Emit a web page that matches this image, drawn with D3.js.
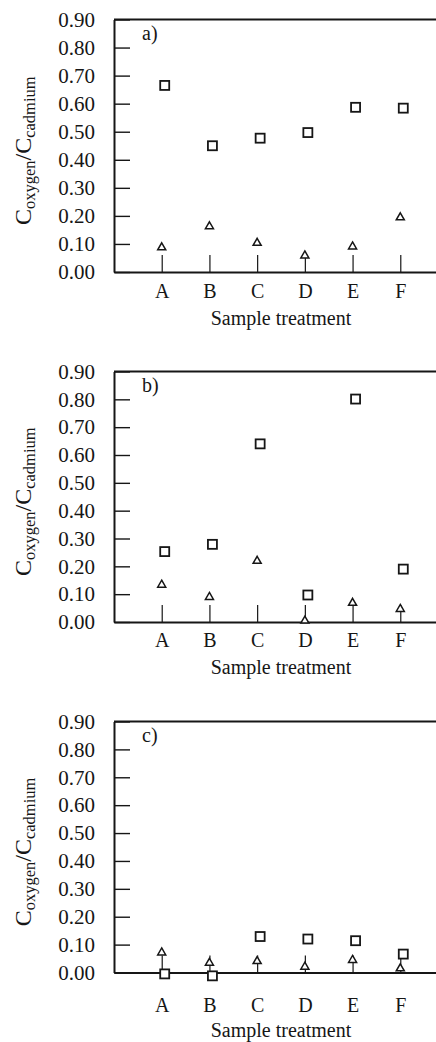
<!DOCTYPE html>
<html>
<head>
<meta charset="utf-8">
<script src="https://cdn.jsdelivr.net/npm/d3@7"></script>
<style>
    body { margin: 0; background: #fff; }
    svg { display: block; }
    .axis path, .axis line { stroke: #161616; }
</style>
</head>
<body>
<div id="chart"></div>
<script>
const categories = ['A', 'B', 'C', 'D', 'E', 'F'];
const panelNames = ['a)', 'b)', 'c)'];
const yTicks = [0, 0.1, 0.2, 0.3, 0.4, 0.5, 0.6, 0.7, 0.8, 0.9];

// squares and triangles, one value per treatment A..F
const squaresA = [0.665, 0.45, 0.477, 0.497, 0.587, 0.584];
const trianglesA = [0.091, 0.166, 0.107, 0.062, 0.094, 0.198];
const squaresB = [0.253, 0.279, 0.64, 0.097, 0.801, 0.19];
const trianglesB = [0.137, 0.093, 0.223, 0.008, 0.072, 0.05];
const squaresC = [-0.005, -0.012, 0.129, 0.12, 0.114, 0.066];
const trianglesC = [0.075, 0.038, 0.044, 0.024, 0.048, 0.018];

const squareSeries = [squaresA, squaresB, squaresC];
const triangleSeries = [trianglesA, trianglesB, trianglesC];

const width = 436;
const height = 1042;
const serif = "'Liberation Serif', 'DejaVu Serif', 'Times New Roman', serif";
const ink = '#161616';

// panel frames (top / zero line) and text offsets below the zero line
const layout = [
    {top: 19.5, bottom: 272, labelPad: 12, titleOffset: 48},
    {top: 371.5, bottom: 622, labelPad: 11, titleOffset: 47},
    {top: 721.5, bottom: 972.5, labelPad: 25, titleOffset: 59},
];

const frameLeft = 114;
const frameRight = 448;

const xScale = d3.scalePoint()
    .domain(categories)
    .range([frameLeft, frameRight])
    .padding(1);

const svg = d3.select('#chart').append('svg')
    .attr('width', width)
    .attr('height', height)
    .attr('font-family', serif);

const triangle = d3.symbol(d3.symbolTriangle, 28);

layout.forEach((p, i) => {
    const yScale = d3.scaleLinear()
        .domain([0, 0.9])
        .range([p.bottom, p.top]);

    const g = svg.append('g').attr('class', `panel panel--${i}`);

    // top border
    g.append('line')
        .attr('x1', frameLeft).attr('x2', frameRight)
        .attr('y1', p.top).attr('y2', p.top)
        .attr('stroke', ink)
        .attr('stroke-width', 2);

    const yAxis = d3.axisLeft(yScale)
        .tickValues(yTicks)
        .tickFormat(d3.format('.2f'))
        .tickSizeInner(-16)
        .tickSizeOuter(0)
        .tickPadding(19);

    const gY = g.append('g')
        .attr('class', 'axis axis--y')
        .attr('transform', `translate(${frameLeft},0)`)
        .call(yAxis)
        .attr('font-family', serif)
        .attr('font-size', 21);
    gY.select('.domain').attr('stroke-width', 2);
    gY.selectAll('line').attr('stroke-width', 1.4);
    gY.selectAll('text').attr('fill', ink);

    const xAxis = d3.axisBottom(xScale)
        .tickSizeInner(-17)
        .tickSizeOuter(0)
        .tickPadding(p.labelPad);

    const gX = g.append('g')
        .attr('class', 'axis axis--x')
        .attr('transform', `translate(0,${p.bottom})`)
        .call(xAxis)
        .attr('font-family', serif)
        .attr('font-size', 20);
    gX.select('.domain').attr('stroke-width', 2);
    gX.selectAll('line').attr('stroke-width', 1.2);
    gX.selectAll('text').attr('fill', ink);

    g.append('text')
        .attr('x', (xScale('A') + xScale('F')) / 2)
        .attr('y', p.bottom + p.titleOffset + 5)
        .attr('text-anchor', 'middle')
        .attr('font-size', 20)
        .attr('fill', ink)
        .text('Sample treatment');

    g.append('text')
        .attr('x', 142)
        .attr('y', p.top + 20)
        .attr('font-size', 20)
        .attr('fill', ink)
        .text(panelNames[i]);

    const yLabel = g.append('text')
        .attr('transform', `translate(31,${(p.top + p.bottom) / 2 + 5}) rotate(-90)`)
        .attr('text-anchor', 'middle')
        .attr('font-size', 24)
        .attr('fill', ink);
    yLabel.append('tspan').text('C');
    yLabel.append('tspan').attr('dy', 4).attr('font-size', 16.5).text('oxygen');
    yLabel.append('tspan').attr('dy', -4).text('/C');
    yLabel.append('tspan').attr('dy', 4).attr('font-size', 16.5).text('cadmium');

    g.selectAll('.square')
        .data(squareSeries[i])
        .join('rect')
        .attr('class', 'square')
        .attr('x', (d, j) => xScale(categories[j]) + 3 - 4.5)
        .attr('y', d => yScale(d) - 4.5)
        .attr('width', 9)
        .attr('height', 9)
        .attr('fill', '#fff')
        .attr('stroke', ink)
        .attr('stroke-width', 1.8);

    g.selectAll('.triangle')
        .data(triangleSeries[i])
        .join('path')
        .attr('class', 'triangle')
        .attr('d', triangle)
        .attr('transform', (d, j) => `translate(${xScale(categories[j])},${yScale(d) + 1})`)
        .attr('fill', '#fff')
        .attr('stroke', ink)
        .attr('stroke-width', 1.5);
});
</script>
</body>
</html>
